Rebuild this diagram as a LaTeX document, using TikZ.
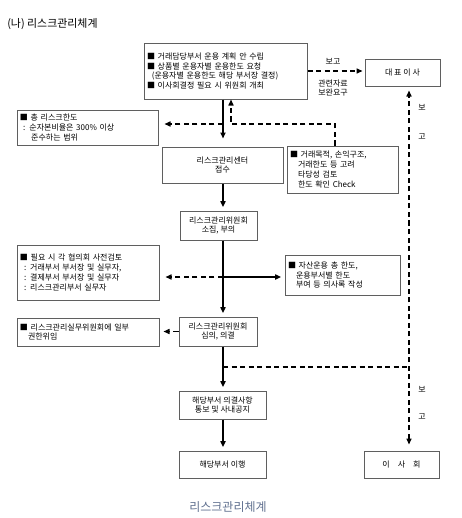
\documentclass[tikz,border=0pt]{standalone}
\usepackage{fontspec}
\setmainfont{Noto Sans CJK KR}
\usetikzlibrary{arrows.meta}
\newlength\pxu
\setlength\pxu{0.75pt}
\definecolor{edgegray}{RGB}{95,95,95}
\definecolor{capblue}{RGB}{96,112,143}

\begin{document}
\begin{tikzpicture}[x=0.75pt, y=-0.75pt, >={Triangle[length=4.5pt,width=3.8pt]},
    every node/.style={font=\fontsize{6}{7.3}\selectfont, inner sep=0pt},
    box/.style n args={2}{draw=edgegray, line width=0.75pt, minimum width=#1\pxu,
        minimum height=#2\pxu, align=center},
    lbox/.style n args={2}{box={#1}{#2},
        /utils/exec={\pgfmathsetlengthmacro\lboxtw{(#1-6)*0.75pt}},
        text width=\lboxtw, inner xsep=3\pxu, align=left},
    flow/.style={->, line width=1.1pt, shorten >=2.5pt},
    dline/.style={line width=1pt, dash pattern=on 3.8pt off 2.6pt},
    dflow/.style={->, dline, shorten >=3pt}]
    \useasboundingbox (0,0) rectangle (461,518);

    \node[anchor=west, font=\fontsize{8.2}{9}\selectfont] (title) at (7,24) {(나) 리스크관리체계};

    % boxes
    \node[lbox={163}{56}] (plan) at (225.5,71)
        {■ 거래담당부서 운용 계획 안 수립\\■ 상품별 운용자별 운용한도 요청\\\hspace*{0.6em}(운용자별 운용한도 해당 부서장 결정)\\■ 이사회결정 필요 시 위원회 개최};
    \node[box={75}{27}] (ceo) at (402.5,72.5) {대 표 이 사};
    \node[lbox={141}{35}] (limit) at (87.5,127.5)
        {■ 총 리스크한도\\\hspace*{0.4em}: 순자본비율은 300\% 이상\\\hspace*{1.4em}준수하는 범위};
    \node[box={121}{36}] (center) at (222.5,165) {리스크관리센터\\접수};
    \node[lbox={111}{47}] (check) at (342.5,169.5)
        {■ 거래목적, 손익구조,\\\hspace*{1em}거래한도 등 고려\\\hspace*{1em}타당성 검토\\\hspace*{1em}한도 확인 Check};
    \node[box={77}{29}] (convene) at (218.5,225.5) {리스크관리위원회\\소집, 부의};
    \node[lbox={142}{55}] (prereview) at (88,272.5)
        {■ 필요 시 각 협의회 사전검토\\\hspace*{0.5em}: 거래부서 부서장 및 실무자,\\\hspace*{0.5em}: 결제부서 부서장 및 실무자\\\hspace*{0.5em}: 리스크관리부서 실무자};
    \node[lbox={115}{40}] (minutes) at (342.5,275)
        {■ 자산운용 총 한도,\\\hspace*{1em}운용부서별 한도\\\hspace*{1em}부여 등 의사록 작성};
    \node[lbox={142}{28}] (delegate) at (88,332) {■ 리스크관리실무위원회에 일부\\\hspace*{1em}권한위임};
    \node[box={78}{29}] (decide) at (218,331.5) {리스크관리위원회\\심의, 의결};
    \node[box={87}{28}] (notify) at (222.5,405) {해당부서 의결사항\\통보 및 사내공지};
    \node[box={87}{27}] (execute) at (222.5,464.5) {해당부서 이행};
    \node[box={75}{27}] (board) at (401.5,464.5) {이\quad 사\quad 회};

    % labels
    \node (rptA) at (333,61) {보고};
    \node[align=center] (reqA) at (333,88) {관련자료\\보완요구};
    \node (rptB1) at (422,107) {보};
    \node (rptB2) at (422,137) {고};
    \node (rptC1) at (422,389) {보};
    \node (rptC2) at (422,417) {고};

    % junctions
    \coordinate (spine) at (223,0);
    \coordinate (fork1) at (223,124);
    \coordinate (bend) at (335,124);
    \coordinate (ret) at (231,124);
    \coordinate (fork2) at (223,277);
    \coordinate (fork3) at (223,367);
    \coordinate (rail) at (409,367);

    % connectors
    \draw[flow, shorten >=6pt] (plan.south -| spine) -- (center.north -| spine);
    \draw[dflow, shorten >=4.5pt] (fork1) -- (fork1 -| limit.east);
    \draw[dflow, shorten >=0pt] (check.north -| bend) -- (bend) -- (ret) -- (ret |- plan.south);
    \draw[dflow, shorten >=1.5pt] (plan.east) -- (plan.east -| ceo.west);
    \draw[flow] (center.south -| spine) -- (convene.north -| spine);
    \draw[flow] (convene.south -| spine) -- (decide.north -| spine);
    \draw[dflow, shorten >=4.5pt] (fork2) -- (fork2 -| prereview.east);
    \draw[flow] (fork2) -- (fork2 -| minutes.west);
    \draw[dflow] (decide.west) -- (decide.west -| delegate.east);
    \draw[flow] (decide.south -| spine) -- (notify.north -| spine);
    \draw[dline] (fork3) -- (rail);
    \draw[dflow, <->, shorten <=4.5pt, shorten >=3pt] (rail |- board.north) -- (rail |- ceo.south);
    \draw[flow] (notify.south -| spine) -- (execute.north -| spine);

    \node[font=\fontsize{9}{10}\selectfont, text=capblue] (caption) at (228,507) {리스크관리체계};
\end{tikzpicture}
\end{document}
